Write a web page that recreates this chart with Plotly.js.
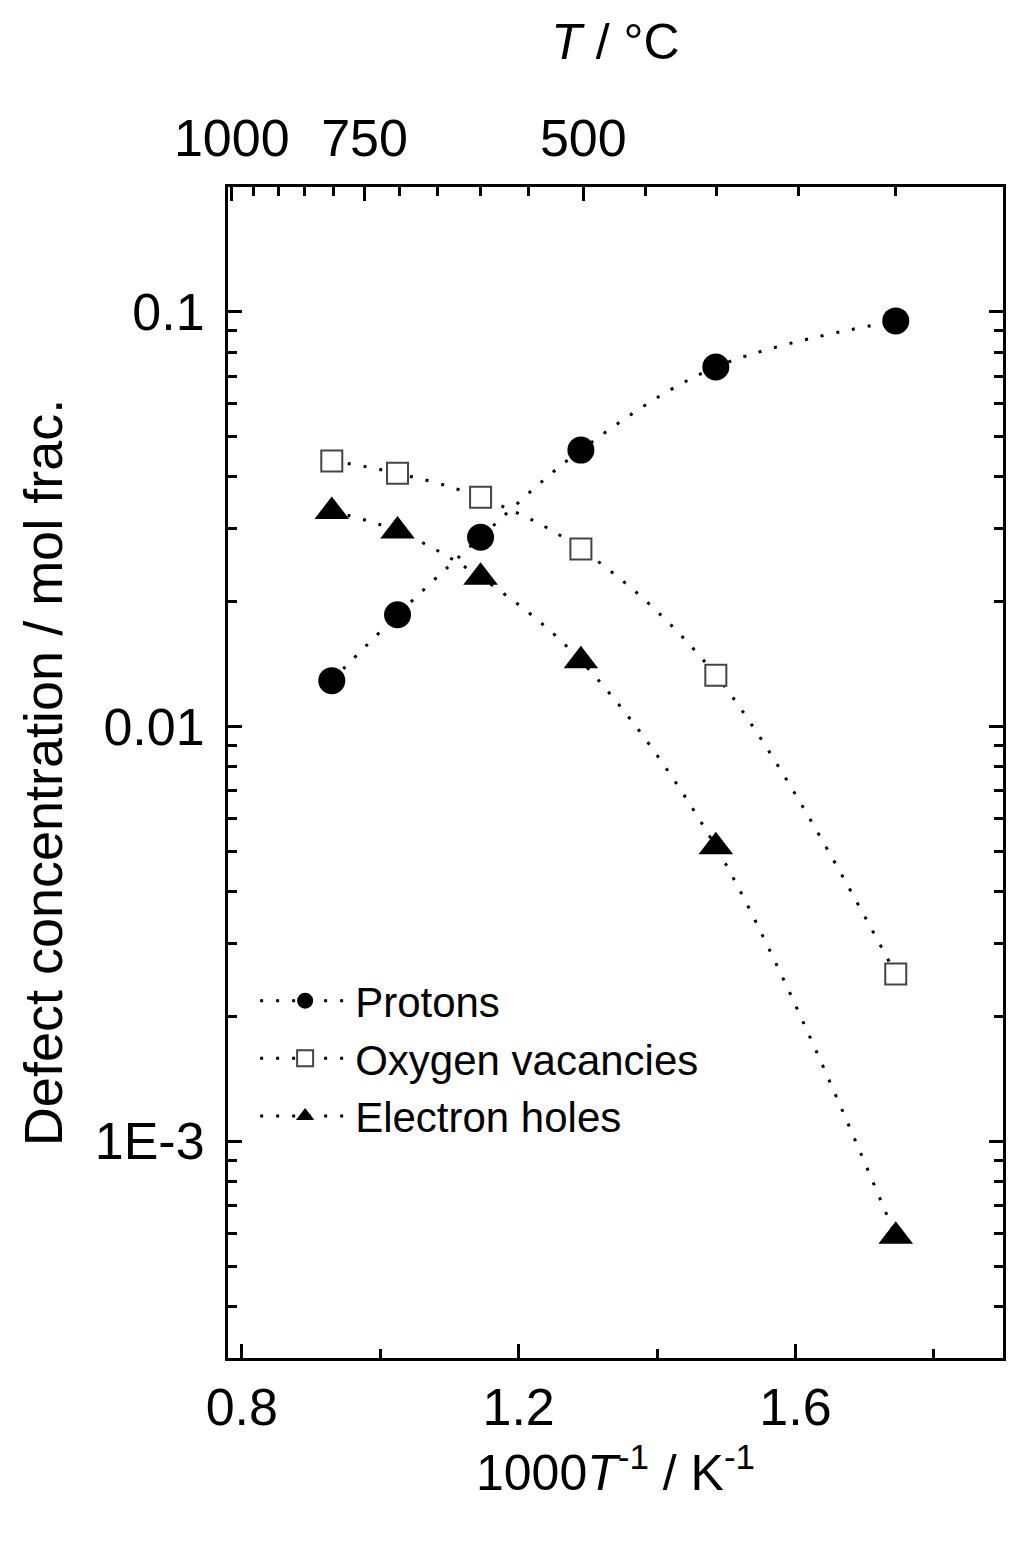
<!DOCTYPE html>
<html>
<head>
<meta charset="utf-8">
<script src="https://cdn.plot.ly/plotly-3.0.1.min.js"></script>
<style>html,body{margin:0;padding:0;background:#fff;}#chart{width:1024px;height:1547px;}</style>
</head>
<body>
<div id="chart"></div>
<script>
// Inverse temperature, 1000/T (K^-1)
var invT = [0.93, 1.025, 1.145, 1.29, 1.485, 1.745];
// Defect concentrations (mol frac.)
var protons = [0.0129, 0.0186, 0.0286, 0.0464, 0.0736, 0.0951];
var oxygenVacancies = [0.0437, 0.0408, 0.0357, 0.0268, 0.0133, 0.00253];
var electronHoles = [0.0330, 0.0296, 0.0229, 0.0144, 0.00513, 0.00059];
// Top axis (T / °C) ticks
var topMajorC = [1000, 750, 500];
var topMajorLabels = ['1000', '750', '500'];
var topMinorC = [950, 900, 850, 800, 700, 650, 600, 550, 450, 400, 350, 300];
// Left axis ticks
var yTickVals = [0.001, 0.01, 0.1];
var yTickText = ['1E-3', '0.01', '0.1'];
var xTickVals = [0.8, 1.2, 1.6];
var xTickText = ['0.8', '1.2', '1.6'];

function toInv(c) { return 1000 / (c + 273.15); }

var FONT = 'Liberation Sans, Arial, sans-serif';
var lineStyle = {color: '#000', width: 3, dash: '3px,13px', shape: 'spline', smoothing: 1};

var traces = [
  {x: invT, y: protons, name: 'Protons', mode: 'lines+markers', line: lineStyle,
   marker: {symbol: 'circle', size: 27, color: '#000'}},
  {x: invT, y: oxygenVacancies, name: 'Oxygen vacancies', mode: 'lines+markers', line: lineStyle,
   marker: {symbol: 'square', size: 21, color: '#fff', line: {width: 2, color: '#444'}}},
  {x: invT, y: electronHoles, name: 'Electron holes', mode: 'lines+markers', line: lineStyle,
   marker: {symbol: 'triangle-up', size: 30, color: '#000'}},
  {x: invT, y: protons, xaxis: 'x2', mode: 'markers', showlegend: false, hoverinfo: 'skip',
   marker: {opacity: 0}},
  {x: invT, y: protons, xaxis: 'x3', mode: 'markers', showlegend: false, hoverinfo: 'skip',
   marker: {opacity: 0}}
];

var xr = [0.78, 1.90];
var layout = {
  width: 1024, height: 1547,
  margin: {l: 228, r: 21, t: 187, b: 189},
  paper_bgcolor: '#fff', plot_bgcolor: '#fff',
  font: {family: FONT, color: '#000', size: 48},
  showlegend: true,
  legend: {x: 0.035, y: 0.334, xanchor: 'left', yanchor: 'top', bgcolor: 'rgba(0,0,0,0)',
           font: {size: 42, family: FONT}, itemwidth: 90, tracegroupgap: 0},
  xaxis: {
    range: xr, tickmode: 'array', tickvals: xTickVals, ticktext: xTickText,
    ticks: 'inside', ticklen: 14, tickwidth: 3, tickcolor: '#000',
    showline: true, linewidth: 3, linecolor: '#000', mirror: true,
    showgrid: false, zeroline: false, ticklabelstandoff: 2,
    tickfont: {size: 52},
    minor: {dtick: 0.2, tick0: 0.8, ticks: 'inside', ticklen: 9, tickwidth: 3, tickcolor: '#000', showgrid: false},
    title: {text: '1000<i>T</i><sup>-1</sup> / K<sup>-1</sup>', font: {size: 50}, standoff: 20}
  },
  xaxis2: {
    overlaying: 'x', side: 'top', anchor: 'y', range: xr,
    tickmode: 'array', tickvals: topMajorC.map(toInv), ticktext: topMajorLabels,
    ticks: 'inside', ticklen: 14, tickwidth: 3, tickcolor: '#000',
    showline: true, linewidth: 3, linecolor: '#000',
    showgrid: false, zeroline: false, ticklabelstandoff: 7,
    tickfont: {size: 52},
    title: {text: '<i>T</i> / °C', font: {size: 50}, standoff: 34}
  },
  xaxis3: {
    overlaying: 'x', side: 'top', anchor: 'y', range: xr,
    tickmode: 'array', tickvals: topMinorC.map(toInv),
    ticks: 'inside', ticklen: 9, tickwidth: 3, tickcolor: '#000',
    showline: false, showgrid: false, zeroline: false, showticklabels: false
  },
  yaxis: {
    type: 'log', range: [Math.log10(3e-4), Math.log10(0.2)],
    tickmode: 'array', tickvals: yTickVals, ticktext: yTickText,
    ticks: 'inside', ticklen: 14, tickwidth: 3, tickcolor: '#000',
    showline: true, linewidth: 3, linecolor: '#000', mirror: 'ticks',
    showgrid: false, zeroline: false, ticklabelstandoff: 10,
    tickfont: {size: 52},
    minor: {dtick: 'D1', ticks: 'inside', ticklen: 9, tickwidth: 3, tickcolor: '#000', showgrid: false},
    title: {text: 'Defect concentration / mol frac.', font: {size: 54}, standoff: 15}
  }
};

Plotly.newPlot('chart', traces, layout, {staticPlot: true});
</script>
</body>
</html>
